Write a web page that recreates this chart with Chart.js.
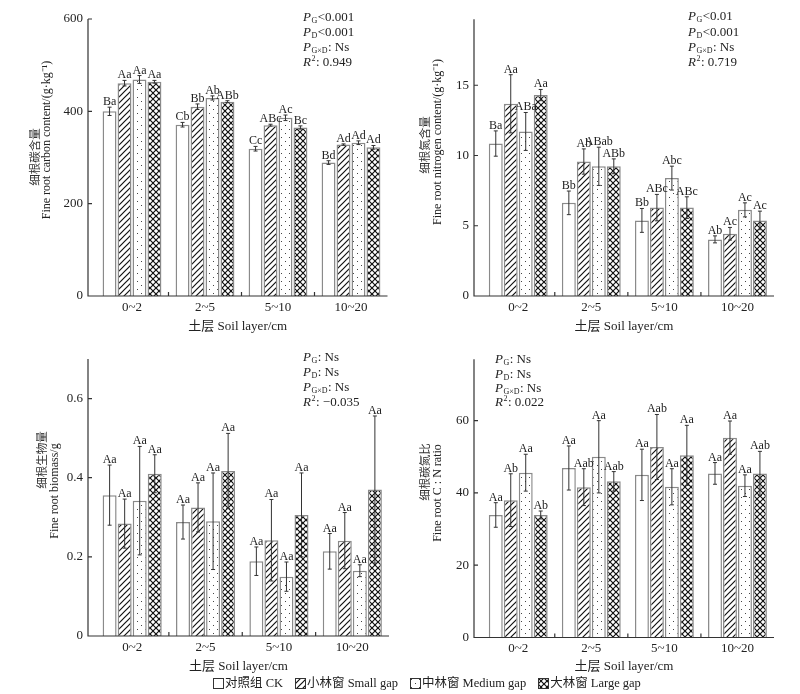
<!DOCTYPE html>
<html>
<head>
<meta charset="utf-8">
<script src="https://cdn.jsdelivr.net/npm/chart.js@4.4.1/dist/chart.umd.min.js"></script>
<style>
  body { margin: 0; background: #fff; }
  #wrap { position: relative; width: 800px; height: 694px; overflow: hidden; background: #fff; }
  canvas.panel { position: absolute; }
  #legend { position: absolute; left: 213px; top: 675px; display: flex; white-space: nowrap;
            font: 12.5px "Liberation Serif", "Noto Sans CJK SC", serif; color: #222; line-height: 16px; }
  #legend .item { display: flex; align-items: center; margin-right: 12px; }
  #legend .item canvas { margin-right: 1px; }
</style>
</head>
<body>
<div id="wrap">
  <canvas id="c1" class="panel" width="400" height="340" style="left:0;top:0"></canvas>
  <canvas id="c2" class="panel" width="400" height="340" style="left:400px;top:0"></canvas>
  <canvas id="c3" class="panel" width="400" height="340" style="left:0;top:340px"></canvas>
  <canvas id="c4" class="panel" width="400" height="340" style="left:400px;top:340px"></canvas>
  <div id="legend"></div>
</div>
<script>
// soil layers and gap treatments
const layers = ['0~2', '2~5', '5~10', '10~20'];
const gapNames = ['对照组 CK', '小林窗 Small gap', '中林窗 Medium gap', '大林窗 Large gap'];
const xTitle = '土层 Soil layer/cm';

// fine root carbon content (g/kg)
const carbonCK = [400, 371, 319, 289];
const carbonSmall = [461, 410, 370, 328];
const carbonMedium = [469, 429, 386, 332];
const carbonLarge = [464, 421, 365, 322];
const carbonErrCK = [9, 5, 5, 4];
const carbonErrSmall = [6, 6, 2, 1.5];
const carbonErrMedium = [8.5, 4.5, 6, 4];
const carbonErrLarge = [3, 2, 3.5, 4];
const carbonLetCK = ['Ba', 'Cb', 'Cc', 'Bd'];
const carbonLetSmall = ['Aa', 'Bb', 'ABc', 'Ad'];
const carbonLetMedium = ['Aa', 'Ab', 'Ac', 'Ad'];
const carbonLetLarge = ['Aa', 'ABb', 'Bc', 'Ad'];
const carbonTicks = [0, 200, 400, 600];
const carbonMax = 600;
const carbonStats = ['<0.001', '<0.001', ': Ns', ': 0.949'];
const carbonTitle = ['细根碳含量', 'Fine root carbon content/(g·kg⁻¹)'];

// fine root nitrogen content (g/kg)
const nitrogenCK = [10.85, 6.63, 5.38, 4.03];
const nitrogenSmall = [13.68, 9.57, 6.29, 4.43];
const nitrogenMedium = [11.71, 9.23, 8.39, 6.13];
const nitrogenLarge = [14.3, 9.23, 6.29, 5.38];
const nitrogenErrCK = [0.9, 0.84, 0.85, 0.25];
const nitrogenErrSmall = [2.07, 0.9, 0.94, 0.45];
const nitrogenErrMedium = [1.35, 1.36, 0.85, 0.5];
const nitrogenErrLarge = [0.4, 0.53, 0.77, 0.66];
const nitrogenLetCK = ['Ba', 'Bb', 'Bb', 'Ab'];
const nitrogenLetSmall = ['Aa', 'Ab', 'ABc', 'Ac'];
const nitrogenLetMedium = ['ABa', 'ABab', 'Abc', 'Ac'];
const nitrogenLetLarge = ['Aa', 'ABb', 'ABc', 'Ac'];
const nitrogenTicks = [0, 5, 10, 15];
const nitrogenMax = 19.7;
const nitrogenStats = ['<0.01', '<0.001', ': Ns', ': 0.719'];
const nitrogenTitle = ['细根氮含量', 'Fine root nitrogen content/(g·kg⁻¹)'];

// fine root biomass (g)
const biomassCK = [0.356, 0.288, 0.189, 0.214];
const biomassSmall = [0.284, 0.325, 0.242, 0.241];
const biomassMedium = [0.342, 0.29, 0.15, 0.165];
const biomassLarge = [0.41, 0.417, 0.306, 0.37];
const biomassErrCK = [0.076, 0.043, 0.036, 0.045];
const biomassErrSmall = [0.062, 0.062, 0.103, 0.071];
const biomassErrMedium = [0.137, 0.122, 0.037, 0.015];
const biomassErrLarge = [0.048, 0.095, 0.106, 0.186];
const biomassLetCK = ['Aa', 'Aa', 'Aa', 'Aa'];
const biomassLetSmall = ['Aa', 'Aa', 'Aa', 'Aa'];
const biomassLetMedium = ['Aa', 'Aa', 'Aa', 'Aa'];
const biomassLetLarge = ['Aa', 'Aa', 'Aa', 'Aa'];
const biomassTicks = [0, 0.2, 0.4, 0.6];
const biomassMax = 0.7;
const biomassStats = [': Ns', ': Ns', ': Ns', ': −0.035'];
const biomassTitle = ['细根生物量', 'Fine root biomass/g'];

// fine root C:N ratio
const ratioCK = [33.9, 46.9, 45.0, 45.4];
const ratioSmall = [38.0, 41.6, 52.7, 55.3];
const ratioMedium = [45.6, 50.0, 41.7, 42.0];
const ratioLarge = [33.9, 43.2, 50.4, 45.4];
const ratioErrCK = [3.4, 6.1, 7.1, 3.0];
const ratioErrSmall = [7.3, 5.1, 9.0, 4.6];
const ratioErrMedium = [5.1, 10.0, 5.0, 3.0];
const ratioErrLarge = [1.1, 2.7, 8.3, 6.1];
const ratioLetCK = ['Aa', 'Aa', 'Aa', 'Aa'];
const ratioLetSmall = ['Ab', 'Aab', 'Aab', 'Aa'];
const ratioLetMedium = ['Aa', 'Aa', 'Aa', 'Aa'];
const ratioLetLarge = ['Ab', 'Aab', 'Aa', 'Aab'];
const ratioTicks = [0, 20, 40, 60];
const ratioMax = 77;
const ratioStats = [': Ns', ': Ns', ': Ns', ': 0.022'];
const ratioTitle = ['细根碳氮比', 'Fine root C : N ratio'];

const FAMILY = '"Liberation Serif", "Noto Sans CJK SC", serif';
Chart.defaults.font.family = FAMILY;
Chart.defaults.font.size = 13;
Chart.defaults.color = '#222';

function makeTile(kind) {
  const s = kind === 'dots' ? 8 : 6;
  const c = document.createElement('canvas');
  c.width = s; c.height = s;
  const g = c.getContext('2d');
  g.fillStyle = '#fff';
  g.fillRect(0, 0, s, s);
  g.strokeStyle = '#111';
  g.lineWidth = 1.2;
  if (kind === 'diag' || kind === 'cross') {
    g.beginPath();
    g.moveTo(-1, 1); g.lineTo(1, -1);
    g.moveTo(0, s); g.lineTo(s, 0);
    g.moveTo(s - 1, s + 1); g.lineTo(s + 1, s - 1);
    g.stroke();
  }
  if (kind === 'cross') {
    g.beginPath();
    g.moveTo(-1, s - 1); g.lineTo(1, s + 1);
    g.moveTo(0, 0); g.lineTo(s, s);
    g.moveTo(s - 1, -1); g.lineTo(s + 1, 1);
    g.stroke();
  }
  if (kind === 'dots') {
    g.fillStyle = '#444';
    g.fillRect(1, 1, 1, 1);
    g.fillRect(5, 5, 1, 1);
  }
  return c;
}
const kinds = ['plain', 'diag', 'dots', 'cross'];
const fills = kinds.map(k => k === 'plain' ? '#fff' : makeTile(k).getContext('2d').createPattern(makeTile(k), 'repeat'));

function drawStat(ctx, x, y, lead, small, sup, value) {
  ctx.textAlign = 'left';
  ctx.textBaseline = 'middle';
  ctx.font = 'italic 13px ' + FAMILY;
  ctx.fillText(lead, x, y);
  x += ctx.measureText(lead).width + 0.5;
  ctx.font = '8px ' + FAMILY;
  ctx.fillText(small, x, sup ? y - 4 : y + 3);
  x += ctx.measureText(small).width + 0.5;
  ctx.font = '13px ' + FAMILY;
  ctx.fillText(value, x, y);
}

function rotText(ctx, text, x, y, font) {
  ctx.save();
  ctx.translate(x, y);
  ctx.rotate(-Math.PI / 2);
  ctx.font = font;
  ctx.textAlign = 'center';
  ctx.textBaseline = 'middle';
  ctx.fillText(text, 0, 0);
  ctx.restore();
}

function makeDecor(p) {
  return {
    id: 'decor',
    afterDatasetsDraw(chart) {
      const { ctx, scales: { y } } = chart;
      ctx.save();
      chart.data.datasets.forEach((ds, i) => {
        chart.getDatasetMeta(i).data.forEach((bar, j) => {
          const v = ds.data[j], e = ds.errors[j];
          const yt = y.getPixelForValue(v + e), yb = y.getPixelForValue(v - e);
          ctx.strokeStyle = '#333';
          ctx.lineWidth = 1;
          ctx.beginPath();
          ctx.moveTo(bar.x, yt); ctx.lineTo(bar.x, yb);
          ctx.moveTo(bar.x - 2, yt); ctx.lineTo(bar.x + 2, yt);
          ctx.moveTo(bar.x - 2, yb); ctx.lineTo(bar.x + 2, yb);
          ctx.stroke();
          ctx.fillStyle = '#222';
          ctx.font = '12px ' + FAMILY;
          ctx.textAlign = 'center';
          ctx.textBaseline = 'alphabetic';
          ctx.fillText(ds.letters[j], bar.x, yt - 2);
        });
      });
      ctx.restore();
    },
    afterDraw(chart) {
      const { ctx, chartArea: a, scales: { x, y } } = chart;
      const ax = p.area.axisX;
      ctx.save();
      ctx.strokeStyle = '#333';
      ctx.lineWidth = 1.2;
      ctx.beginPath();
      ctx.moveTo(ax, a.top); ctx.lineTo(ax, a.bottom); ctx.lineTo(a.right, a.bottom);
      y.ticks.forEach(t => {
        const py = y.getPixelForValue(t.value);
        ctx.moveTo(ax, py); ctx.lineTo(ax + 4, py);
      });
      for (let i = 0; i < layers.length - 1; i++) {
        const px = (x.getPixelForValue(i) + x.getPixelForValue(i + 1)) / 2;
        ctx.moveTo(px, a.bottom); ctx.lineTo(px, a.bottom - 4);
      }
      ctx.stroke();

      ctx.fillStyle = '#222';
      const sx = p.statPos.x, sy = p.statPos.y;
      drawStat(ctx, sx, sy[0], 'P', 'G', false, p.stats[0]);
      drawStat(ctx, sx, sy[1], 'P', 'D', false, p.stats[1]);
      drawStat(ctx, sx, sy[2], 'P', 'G×D', false, p.stats[2]);
      drawStat(ctx, sx, sy[3], 'R', '2', true, p.stats[3]);

      ctx.fillStyle = '#333';
      rotText(ctx, p.title[0], p.zhPos[0], p.zhPos[1], '11.5px "Noto Sans CJK SC", sans-serif');
      ctx.fillStyle = '#222';
      rotText(ctx, p.title[1], p.enPos[0], p.enPos[1], '12px ' + FAMILY);

      ctx.font = '13px ' + FAMILY;
      ctx.textAlign = 'center';
      ctx.textBaseline = 'middle';
      ctx.fillText(xTitle, (ax + a.right) / 2, 327);
      ctx.restore();
    }
  };
}

const panels = [
  { id: 'c1', series: [carbonCK, carbonSmall, carbonMedium, carbonLarge],
    errors: [carbonErrCK, carbonErrSmall, carbonErrMedium, carbonErrLarge],
    letters: [carbonLetCK, carbonLetSmall, carbonLetMedium, carbonLetLarge],
    ticks: carbonTicks, max: carbonMax, stats: carbonStats, title: carbonTitle,
    area: { axisX: 88, left: 95.5, right: 387.5, top: 7, bottom: 296 },
    statPos: { x: 303, y: [18, 33, 48, 63] }, zhPos: [35, 157], enPos: [47, 140] },
  { id: 'c2', series: [nitrogenCK, nitrogenSmall, nitrogenMedium, nitrogenLarge],
    errors: [nitrogenErrCK, nitrogenErrSmall, nitrogenErrMedium, nitrogenErrLarge],
    letters: [nitrogenLetCK, nitrogenLetSmall, nitrogenLetMedium, nitrogenLetLarge],
    ticks: nitrogenTicks, max: nitrogenMax, stats: nitrogenStats, title: nitrogenTitle,
    area: { axisX: 74, left: 81.7, right: 374, top: 6, bottom: 296 },
    statPos: { x: 288, y: [17, 33, 48, 63] }, zhPos: [25, 145], enPos: [38, 142] },
  { id: 'c3', series: [biomassCK, biomassSmall, biomassMedium, biomassLarge],
    errors: [biomassErrCK, biomassErrSmall, biomassErrMedium, biomassErrLarge],
    letters: [biomassLetCK, biomassLetSmall, biomassLetMedium, biomassLetLarge],
    ticks: biomassTicks, max: biomassMax, stats: biomassStats, title: biomassTitle,
    area: { axisX: 88, left: 95.5, right: 389, top: 7, bottom: 296 },
    statPos: { x: 303, y: [18, 33, 48, 63] }, zhPos: [42, 120], enPos: [55, 151] },
  { id: 'c4', series: [ratioCK, ratioSmall, ratioMedium, ratioLarge],
    errors: [ratioErrCK, ratioErrSmall, ratioErrMedium, ratioErrLarge],
    letters: [ratioLetCK, ratioLetSmall, ratioLetMedium, ratioLetLarge],
    ticks: ratioTicks, max: ratioMax, stats: ratioStats, title: ratioTitle,
    area: { axisX: 74, left: 81.7, right: 374, top: 7, bottom: 297.5 },
    statPos: { x: 95, y: [20, 35, 49, 63] }, zhPos: [25, 132], enPos: [38, 153] }
];

panels.forEach(p => {
  const a = p.area;
  new Chart(document.getElementById(p.id), {
    type: 'bar',
    data: {
      labels: layers,
      datasets: p.series.map((s, i) => ({
        label: gapNames[i],
        data: s,
        errors: p.errors[i],
        letters: p.letters[i],
        backgroundColor: fills[i],
        borderColor: '#8a8a8a',
        borderWidth: 1.5,
        categoryPercentage: 0.82,
        barPercentage: 0.93
      }))
    },
    options: {
      responsive: false,
      animation: false,
      layout: { padding: { left: 0, top: a.top, right: 400 - a.right, bottom: 0 } },
      plugins: { legend: { display: false }, tooltip: { enabled: false } },
      scales: {
        x: {
          grid: { display: false, drawTicks: false },
          border: { display: false },
          ticks: { padding: 5, font: { size: 13, lineHeight: 1 } },
          afterFit(s) { s.height = 340 - a.bottom; }
        },
        y: {
          min: 0,
          max: p.max,
          grid: { display: false, drawTicks: false },
          border: { display: false },
          ticks: { padding: a.left - a.axisX + 5, font: { size: 13, lineHeight: 1 }, callback: v => String(v) },
          afterBuildTicks(s) { s.ticks = p.ticks.map(v => ({ value: v })); },
          afterFit(s) { s.width = a.left; }
        }
      }
    },
    plugins: [makeDecor(p)]
  });
});

// legend row
const legend = document.getElementById('legend');
gapNames.forEach((name, i) => {
  const item = document.createElement('span');
  item.className = 'item';
  const sw = document.createElement('canvas');
  sw.width = 11; sw.height = 11;
  const g = sw.getContext('2d');
  g.fillStyle = fills[i];
  g.fillRect(0, 0, 11, 11);
  g.strokeStyle = '#333';
  g.lineWidth = 1;
  g.strokeRect(0.5, 0.5, 10, 10);
  item.appendChild(sw);
  item.appendChild(document.createTextNode(name));
  legend.appendChild(item);
});
</script>
</body>
</html>
